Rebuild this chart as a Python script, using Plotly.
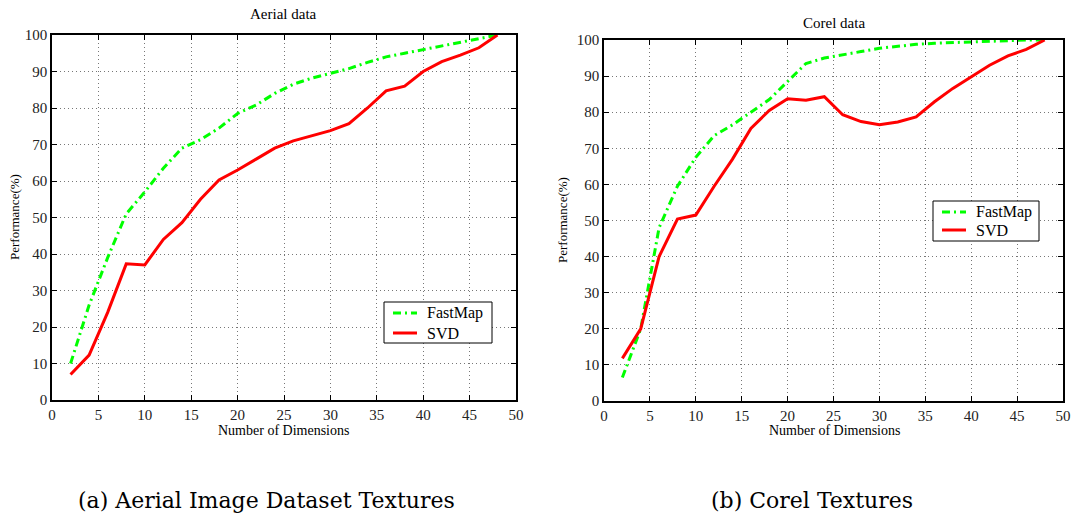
import plotly.graph_objects as go

# ---- data ----
dims = [2, 4, 6, 8, 10, 12, 14, 16, 18, 20, 22, 24, 26, 28, 30, 32, 34, 36, 38, 40, 42, 44, 46, 48]

aerial_fastmap = [10, 26, 39, 51, 57, 63.5, 69, 71.3, 74.5, 78.5, 80.8, 84, 86.5, 88.2, 89.5, 90.8,
                  92.5, 94, 95, 96, 97, 98, 99, 100]
aerial_svd = [7.0, 12.3, 24, 37.3, 37, 44, 48.6, 55, 60.3, 63, 66, 69, 71, 72.5, 73.8, 75.7,
              80, 84.7, 86, 90, 92.7, 94.5, 96.5, 100]

corel_fastmap = [6.5, 20, 48, 59.5, 67.5, 73.5, 76.5, 80, 83.5, 88.5, 93.5, 95, 96, 96.8, 97.7, 98.3,
                 98.8, 99.1, 99.3, 99.6, 99.8, 99.9, 100, 100]
corel_svd = [11.8, 20, 40, 50.4, 51.5, 59.5, 67, 75.5, 80.5, 83.7, 83.3, 84.3, 79.3, 77.4, 76.5, 77.3,
             78.7, 82.9, 86.6, 89.8, 93, 95.6, 97.4, 100]

series_names = ["FastMap", "SVD"]
titles = ["Aerial data", "Corel data"]
captions = ["(a) Aerial Image Dataset Textures", "(b) Corel Textures"]
x_label = "Number of Dimensions"
y_label = "Performance(%)"

GREEN = "#00ff00"
RED = "#ff0000"
SERIF = "Liberation Serif"
CAPTION_FONT = "DejaVu Serif"
GREEN_DASH = "8px,4px,2px,4px"

W, H = 1074, 520


def px_x(p):
    return p / W


def px_y(p):
    return 1 - p / H


fig = go.Figure()

panels = [
    (aerial_fastmap, aerial_svd, "x", "y"),
    (corel_fastmap, corel_svd, "x2", "y2"),
]
for fm, svd, xa, ya in panels:
    fig.add_trace(go.Scatter(x=dims, y=fm, mode="lines", name=series_names[0],
                             line=dict(color=GREEN, width=3, dash=GREEN_DASH),
                             xaxis=xa, yaxis=ya, showlegend=False))
    fig.add_trace(go.Scatter(x=dims, y=svd, mode="lines", name=series_names[1],
                             line=dict(color=RED, width=3),
                             xaxis=xa, yaxis=ya, showlegend=False))

axis_common = dict(
    showline=True, linecolor="black", linewidth=1.5, mirror="ticks",
    ticks="inside", ticklen=5, tickcolor="black", tickwidth=1,
    showgrid=True, gridcolor="#777777", gridwidth=1, griddash="1px,3px",
    zeroline=False,
    tickfont=dict(family=SERIF, size=15, color="#222"),
)

fig.update_layout(
    width=W, height=H,
    margin=dict(l=0, r=0, t=0, b=0, autoexpand=False),
    paper_bgcolor="white", plot_bgcolor="white",
    showlegend=False,
    xaxis=dict(domain=[px_x(52), px_x(516)], range=[0, 50], dtick=5, anchor="y", **axis_common),
    yaxis=dict(domain=[px_y(400), px_y(35)], range=[0, 100], dtick=10, anchor="x", **axis_common),
    xaxis2=dict(domain=[px_x(604), px_x(1063)], range=[0, 50], dtick=5, anchor="y2", **axis_common),
    yaxis2=dict(domain=[px_y(401), px_y(40)], range=[0, 100], dtick=10, anchor="x2", **axis_common),
)

ann = []
shapes = []


def text_ann(text, cx, cy, size, family=SERIF, angle=0, xanchor="center"):
    return dict(text=text, x=px_x(cx), y=px_y(cy), xref="paper", yref="paper",
                xanchor=xanchor, yanchor="middle", showarrow=False, textangle=angle,
                font=dict(family=family, size=size, color="black"))


# titles
ann.append(text_ann(titles[0], 283, 14, 15))
ann.append(text_ann(titles[1], 834, 23, 15))
# x labels
for cx in (283, 834):
    ann.append(text_ann(x_label, cx, 430, 14))
# y labels
for cx, cy in ((14, 217), (562, 220)):
    ann.append(text_ann(y_label, cx, cy, 13, angle=-90))
# captions
for text, cx in zip(captions, (266, 812)):
    ann.append(text_ann(text, cx, 500, 22, family=CAPTION_FONT))

# legends (box, sample lines, labels)
legend_boxes = [(384, 302, 492, 343, 11, 31), (933, 201, 1039, 241, 11, 29)]
for x0, y0, x1, y1, r1, r2 in legend_boxes:
    shapes.append(dict(type="rect", xref="paper", yref="paper",
                       x0=px_x(x0), x1=px_x(x1), y0=px_y(y1), y1=px_y(y0),
                       line=dict(color="black", width=1), fillcolor="white", layer="above"))
    for name, color, dash, ry in ((series_names[0], GREEN, GREEN_DASH, r1),
                                  (series_names[1], RED, "solid", r2)):
        shapes.append(dict(type="line", xref="paper", yref="paper",
                           x0=px_x(x0 + 9), x1=px_x(x0 + 33), y0=px_y(y0 + ry), y1=px_y(y0 + ry),
                           line=dict(color=color, width=3, dash=dash), layer="above"))
        ann.append(text_ann(name, x0 + 41, y0 + ry, 16, xanchor="left"))

fig.update_layout(annotations=ann, shapes=shapes)

fig.write_html("out.html")
